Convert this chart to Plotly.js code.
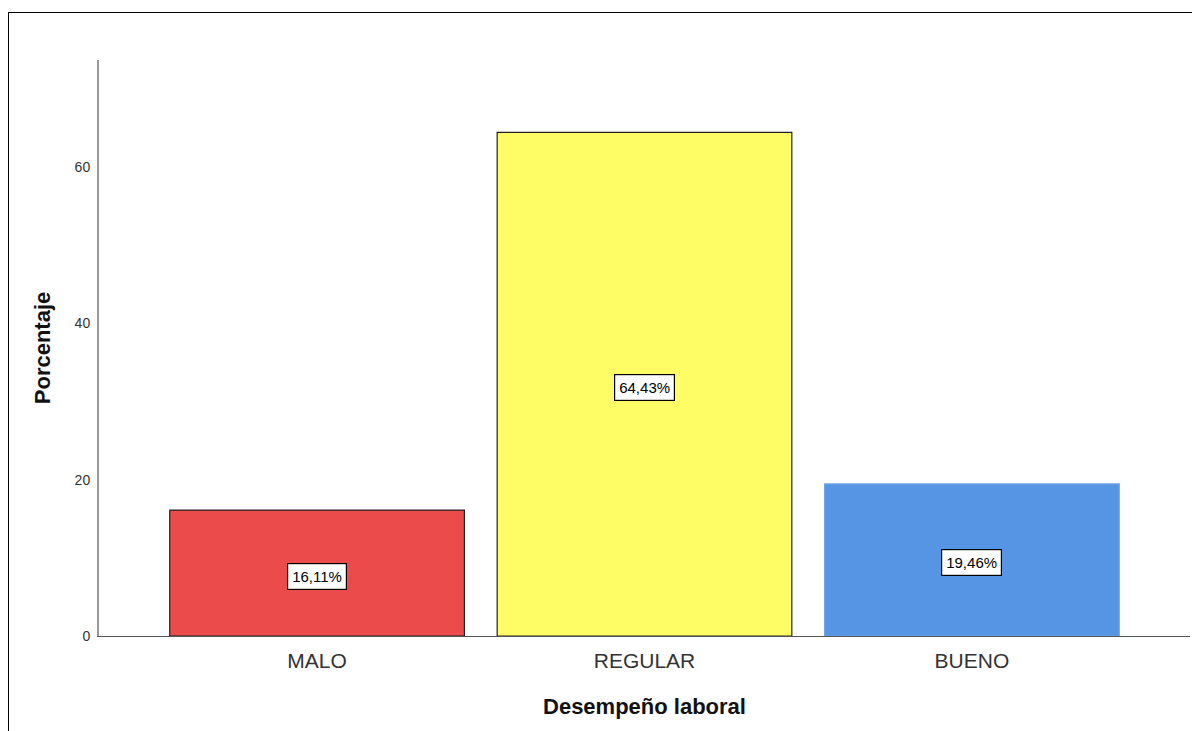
<!DOCTYPE html>
<html>
<head>
<meta charset="utf-8">
<script src="https://cdn.plot.ly/plotly-3.0.1.min.js"></script>
<style>
  html, body { margin: 0; padding: 0; background: #fff; overflow: hidden; }
  #chart { width: 1192px; height: 731px; }
  #frame {
    position: absolute; left: 8px; top: 12px; width: 1300px; height: 900px;
    border-top: 1.5px solid #000; border-left: 1.5px solid #000;
    pointer-events: none;
  }
</style>
</head>
<body>
<div id="chart"></div>
<div id="frame"></div>
<script>
// Desempeño laboral: percentage per category
const categories = ['MALO', 'REGULAR', 'BUENO'];
const percentages = [16.11, 64.43, 19.46];
const barColors = ['#EC4B4C', '#FFFD66', '#5595E4'];
const edgeColors = ['#222222', '#222222', '#6FA6EA'];
const yTicks = [0, 20, 40, 60];

const fmt = v => v.toFixed(2).replace('.', ',') + '%';

const trace = {
  type: 'bar',
  x: categories,
  y: percentages,
  width: 0.9,
  marker: { color: barColors, line: { color: edgeColors, width: 1.2 } },
  hoverinfo: 'none'
};

const annotations = categories.map((c, i) => ({
  x: c, y: percentages[i] / 2, xref: 'x', yref: 'y',
  text: fmt(percentages[i]), showarrow: false, yshift: -3,
  font: { family: 'Liberation Sans, Arial, sans-serif', size: 15, color: '#000' },
  bgcolor: '#fff', bordercolor: '#000', borderwidth: 1.2, borderpad: 4
}));

const layout = {
  width: 1192, height: 731,
  margin: { l: 99, r: 2, t: 60, b: 95 },
  paper_bgcolor: '#fff', plot_bgcolor: '#fff',
  showlegend: false,
  font: { family: 'Liberation Sans, Arial, sans-serif', color: '#222' },
  xaxis: {
    type: 'category', range: [-0.666, 2.666],
    showline: true, linecolor: '#555', linewidth: 1.2,
    showgrid: false, zeroline: false, ticks: '',
    tickfont: { size: 21, color: '#333' },
    ticklabelstandoff: 6,
    title: { text: '<b>Desempeño laboral</b>', font: { size: 22, color: '#111' }, standoff: 27 }
  },
  yaxis: {
    range: [0, 73.7], tickvals: yTicks, ticktext: yTicks.map(String),
    showline: true, linecolor: '#999', linewidth: 2,
    showgrid: false, zeroline: false, ticks: '',
    tickfont: { size: 14, color: '#333' },
    ticklabelstandoff: 4,
    title: { text: '<b>Porcentaje</b>', font: { size: 22, color: '#111' }, standoff: 18 }
  },
  annotations: annotations
};

Plotly.newPlot('chart', [trace], layout, { displayModeBar: false, staticPlot: true });
</script>
</body>
</html>
